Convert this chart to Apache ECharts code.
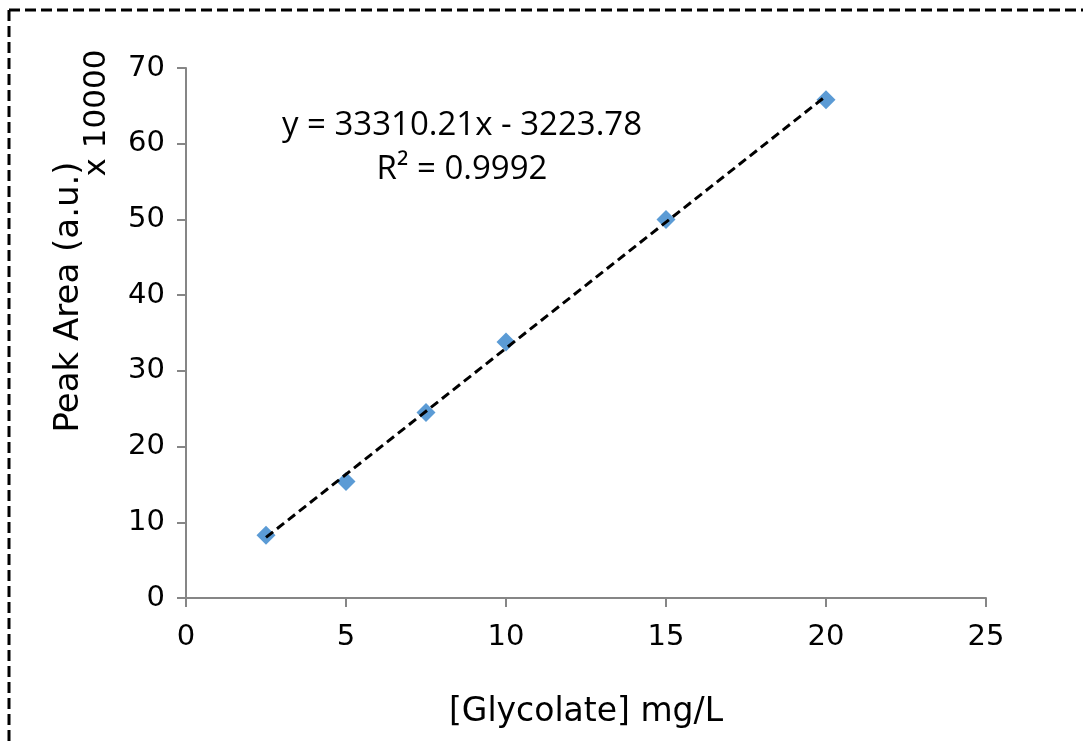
<!DOCTYPE html>
<html>
<head>
<meta charset="utf-8">
<script src="https://cdn.jsdelivr.net/npm/echarts@6/dist/echarts.min.js"></script>
<style>
html,body{margin:0;padding:0;background:#fff;}
#main{width:1083px;height:746px;}
</style>
</head>
<body>
<div id="main"></div>
<script>
// Data (peak area in units of 10000)
const concentrations = [2.5, 5, 7.5, 10, 15, 20];
const peakAreas = [8.3, 15.4, 24.5, 33.8, 50.0, 65.8];
const trendSlope = 3.331021;     // 33310.21 / 10000
const trendIntercept = -0.322378; // -3223.78 / 10000
const xTicks = [0, 5, 10, 15, 20, 25];
const yTicks = [0, 10, 20, 30, 40, 50, 60, 70];
const equationText = 'y = 33310.21x - 3223.78';
const r2Text = 'R² = 0.9992';
const xAxisName = '[Glycolate] mg/L';
const yAxisName = 'Peak Area (a.u.)';
const yUnitText = 'x 10000';

const trendX = [concentrations[0], concentrations[concentrations.length - 1]];
const trendLine = trendX.map(x => [x, trendSlope * x + trendIntercept]);

const chart = echarts.init(document.getElementById('main'), null, {renderer: 'canvas'});
const tickFont = '"DejaVu Sans", sans-serif';
const axisGrey = '#868686';

chart.setOption({
  animation: false,
  backgroundColor: '#fff',
  grid: {left: 186, top: 68, right: 97, bottom: 148},
  xAxis: {
    type: 'value', min: xTicks[0], max: xTicks[xTicks.length - 1], interval: 5,
    splitLine: {show: false},
    axisLine: {show: true, lineStyle: {color: axisGrey, width: 2}},
    axisTick: {show: true, length: 9, lineStyle: {color: axisGrey, width: 2}},
    axisLabel: {color: '#000', fontSize: 29, fontFamily: tickFont, margin: 25},
    name: xAxisName, nameLocation: 'middle', nameGap: 98,
    nameTextStyle: {color: '#000', fontSize: 33, fontFamily: tickFont}
  },
  yAxis: {
    type: 'value', min: yTicks[0], max: yTicks[yTicks.length - 1], interval: 10,
    splitLine: {show: false},
    axisLine: {show: true, lineStyle: {color: axisGrey, width: 2}},
    axisTick: {show: true, length: 9, lineStyle: {color: axisGrey, width: 2}},
    axisLabel: {color: '#000', fontSize: 29, fontFamily: tickFont, margin: 21}
  },
  graphic: [
    {type: 'line', shape: {x1: 9, y1: 10, x2: 1083, y2: 10},
      style: {stroke: '#000', lineWidth: 3, lineDash: [11, 5]}},
    {type: 'line', shape: {x1: 9, y1: 10, x2: 9, y2: 746},
      style: {stroke: '#000', lineWidth: 3, lineDash: [11, 5]}},
    {type: 'text', x: 69, y: 297, rotation: Math.PI / 2,
      style: {text: yAxisName, fill: '#000', font: '34px "DejaVu Sans", sans-serif',
        textAlign: 'center', textVerticalAlign: 'middle'}},
    {type: 'text', x: 97, y: 113, rotation: Math.PI / 2,
      style: {text: yUnitText, fill: '#000', font: '31px "DejaVu Sans", sans-serif',
        textAlign: 'center', textVerticalAlign: 'middle'}},
    {type: 'text', x: 462, y: 126,
      style: {text: equationText, fill: '#000', font: '33px "Open Sans", sans-serif',
        textAlign: 'center', textVerticalAlign: 'middle'}},
    {type: 'text', x: 462, y: 170,
      style: {text: r2Text, fill: '#000', font: '33px "Open Sans", sans-serif',
        textAlign: 'center', textVerticalAlign: 'middle'}}
  ],
  series: [
    {
      type: 'scatter', name: 'data',
      data: concentrations.map((x, i) => [x, peakAreas[i]]),
      symbol: 'diamond', symbolSize: 19,
      itemStyle: {color: '#5B9BD5', opacity: 1}, z: 2
    },
    {
      type: 'line', name: 'trend', data: trendLine,
      symbol: 'none', lineStyle: {color: '#000', width: 3, type: [9, 5]}, z: 3
    }
  ]
});
</script>
</body>
</html>
